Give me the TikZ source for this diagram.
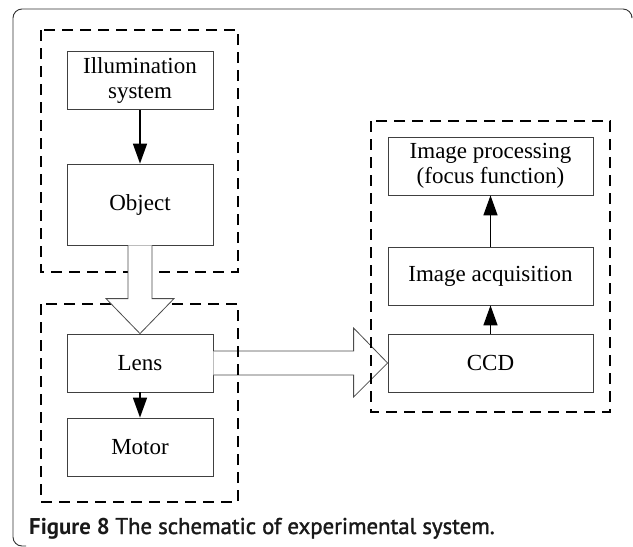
\documentclass[tikz,border=0pt]{standalone}
\usepackage{fontspec}
\setmainfont{Liberation Serif}
\newfontfamily\capfont{PT Sans}
\newfontfamily\capfontmed[FakeBold=1.6]{PT Sans}
\usetikzlibrary{arrows.meta,calc}
\begin{document}
\begin{tikzpicture}[x=1pt,y=-1pt,
  block/.style={draw=black!75,line width=0.8pt,minimum width=146pt,
    minimum height=58pt,align=center,inner sep=2pt,
    font=\fontsize{23}{25}\selectfont},
  wideblock/.style={block,minimum width=205pt},
  group/.style={line width=1.8pt,dash pattern=on 11pt off 7pt},
  link/.style={line width=1.5pt,-{Triangle[length=20pt,width=14pt]}},
  hollow/.style={draw=black!70,line width=0.8pt,fill=white,line join=miter}]
  \useasboundingbox (0,0) rectangle (633,547);
  % Outer frame
  \draw[line width=0.9pt,black!80,rounded corners=9pt]
    (632,16) -- (632,9) -- (13,9) -- (13,546) -- (26,546);
  % Blocks
  \node[block] (illum) at (140,80.5) {Illumination\\system};
  \node[block,minimum height=81pt] (object) at (140,204.5) {Object};
  \node[block] (lens) at (140,363) {Lens};
  \node[block] (motor) at (140,447) {Motor};
  \node[wideblock] (proc) at (490.5,166) {Image processing\\(focus function)};
  \node[wideblock] (acq) at (490.5,276) {Image acquisition};
  \node[wideblock] (ccd) at (490.5,363) {CCD};
  % Light path: lens to CCD
  \draw[hollow] ($(lens.east)+(0,-12)$) -- ($(ccd.west)+(-34,-12)$)
    -- ($(ccd.west)+(-34,-35)$) -- (ccd.west) -- ($(ccd.west)+(-34,34)$)
    -- ($(ccd.west)+(-34,12)$) -- ($(lens.east)+(0,12)$);
  % Groups
  \draw[group] (41,30) rectangle (238,272);
  \draw[group] (41,304) rectangle (238,502);
  \draw[group] (371,121) rectangle (610,412);
  % Light path: object to lens
  \draw[hollow] ($(object.south)+(-12,0)$) -- ($(lens.north)+(-12,-35)$)
    -- ($(lens.north)+(-34,-35)$) -- (lens.north) -- ($(lens.north)+(34,-35)$)
    -- ($(lens.north)+(12,-35)$) -- ($(object.south)+(12,0)$);
  % Signal arrows
  \draw[link] (illum) -- (object);
  \draw[link] (lens) -- (motor);
  \draw[link] (ccd) -- (acq);
  \draw[link] (acq) -- (proc);
  % Caption
  \node[anchor=base west,inner sep=0pt,text=black!90,font=\fontsize{22.8}{25}\selectfont] (caption) at (29,534)
    {{\capfont\bfseries Figure 8} {\capfontmed The schematic of experimental system.}};
\end{tikzpicture}
\end{document}
